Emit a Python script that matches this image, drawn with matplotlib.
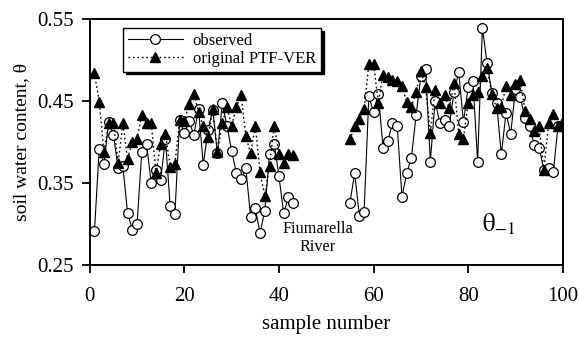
import numpy as np
import matplotlib
matplotlib.use("Agg")
import matplotlib.pyplot as plt

# sample numbers of the two reaches (gap = Fiumarella River)
x1 = list(range(1, 44))
x2 = list(range(55, 101))

obs1 = [0.291, 0.392, 0.373, 0.424, 0.409, 0.368, 0.371, 0.313, 0.293, 0.300,
        0.388, 0.398, 0.350, 0.366, 0.354, 0.404, 0.322, 0.312, 0.427, 0.411,
        0.425, 0.409, 0.440, 0.372, 0.415, 0.439, 0.386, 0.447, 0.420, 0.389,
        0.362, 0.355, 0.368, 0.309, 0.319, 0.289, 0.316, 0.385, 0.398, 0.358,
        0.313, 0.333, 0.325]
obs2 = [0.326, 0.362, 0.310, 0.315, 0.456, 0.436, 0.459, 0.393, 0.401, 0.423,
        0.420, 0.333, 0.362, 0.381, 0.433, 0.480, 0.489, 0.376, 0.450, 0.423,
        0.427, 0.419, 0.461, 0.485, 0.424, 0.467, 0.474, 0.376, 0.539, 0.496,
        0.460, 0.448, 0.385, 0.435, 0.410, 0.465, 0.455, 0.429, 0.419, 0.396,
        0.393, 0.366, 0.368, 0.363, 0.420, 0.420]

ptf1 = [0.484, 0.449, 0.388, 0.423, 0.423, 0.374, 0.423, 0.379, 0.400, 0.404,
        0.433, 0.423, 0.423, 0.362, 0.398, 0.410, 0.370, 0.373, 0.427, 0.425,
        0.446, 0.459, 0.437, 0.419, 0.406, 0.440, 0.388, 0.423, 0.443, 0.420,
        0.443, 0.457, 0.407, 0.386, 0.420, 0.363, 0.334, 0.371, 0.420, 0.385,
        0.374, 0.385, 0.384]
ptf2 = [0.403, 0.419, 0.428, 0.440, 0.495, 0.495, 0.448, 0.482, 0.479, 0.476,
        0.474, 0.468, 0.449, 0.443, 0.461, 0.487, 0.467, 0.411, 0.463, 0.447,
        0.457, 0.441, 0.472, 0.410, 0.404, 0.448, 0.457, 0.461, 0.480, 0.490,
        0.459, 0.441, 0.443, 0.468, 0.457, 0.471, 0.476, 0.438, 0.428, 0.413,
        0.419, 0.366, 0.423, 0.434, 0.420, 0.425]

plt.rcParams['font.family'] = ['Liberation Serif', 'DejaVu Serif']
plt.rcParams['mathtext.fontset'] = 'stix'

fig = plt.figure(figsize=(5.79, 3.38), dpi=100)
ax = fig.add_axes([0.155, 0.216, 0.817, 0.728])

obs_style = dict(color='black', lw=0.8, marker='o', ms=7, mfc='white',
                 mec='black', mew=0.9)
ptf_style = dict(color='black', lw=1.0, ls=(0, (1.2, 2)), marker='^', ms=7.5,
                 mfc='black', mec='black')

ax.plot(x1, obs1, label='observed', **obs_style)
ax.plot(x2, obs2, **obs_style)
ax.plot(x1, ptf1, label='original PTF-VER', **ptf_style)
ax.plot(x2, ptf2, **ptf_style)

ax.set_xlim(0, 100)
ax.set_ylim(0.25, 0.55)
ax.set_xticks([0, 20, 40, 60, 80, 100])
ax.set_yticks([0.25, 0.35, 0.45, 0.55])
ax.tick_params(direction='out', length=5.5, width=1.3, labelsize=15)
ax.tick_params(axis='x', pad=10)
ax.tick_params(axis='y', pad=6)
for s in ax.spines.values():
    s.set_linewidth(1.4)

ax.set_xlabel('sample number', fontsize=15, labelpad=7)
ax.set_ylabel('soil water content, θ', fontsize=14, labelpad=5)

ax.text(48.2, 0.283, 'Fiumarella\nRiver', ha='center', va='center',
        fontsize=11.7, linespacing=1.15)
ax.text(83, 0.299, r'$\mathrm{\theta}_{-1}$', ha='left', va='center', fontsize=18)

leg = ax.legend(loc='upper left', bbox_to_anchor=(0.07, 0.963),
                borderaxespad=0, fontsize=12, handlelength=3.3,
                handletextpad=0.6, fancybox=False, edgecolor='black',
                framealpha=1, shadow={'color': 'black', 'alpha': 1},
                labelspacing=0.1, borderpad=0.3)
leg.get_frame().set_linewidth(1.0)

fig.savefig('out.png', dpi=100)
